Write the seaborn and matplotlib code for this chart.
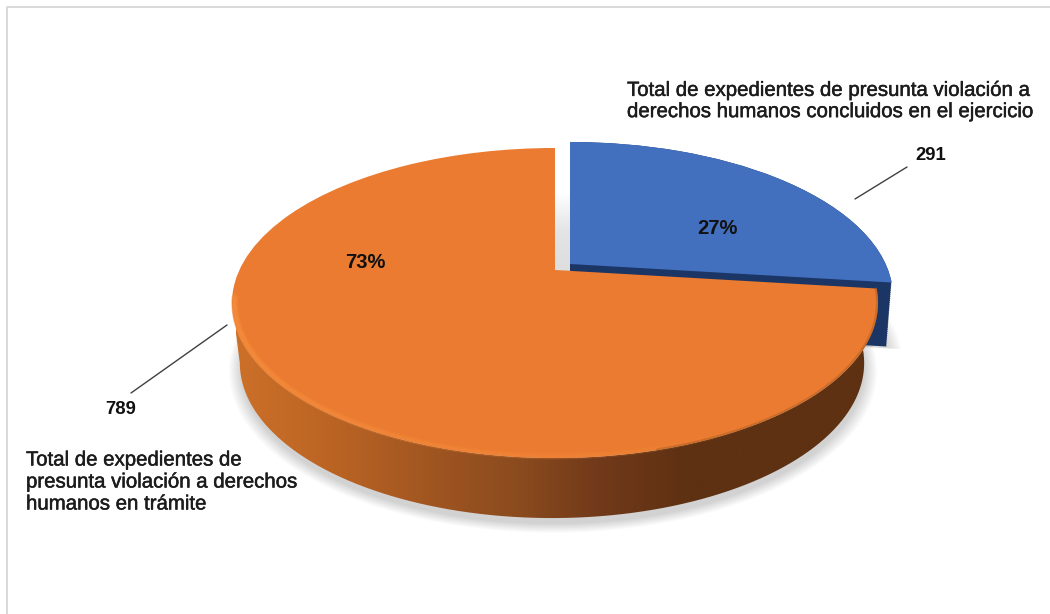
import numpy as np
import matplotlib
matplotlib.use("Agg")
import matplotlib.pyplot as plt
import matplotlib.transforms as mtransforms
import matplotlib.patheffects as pe
from matplotlib.colors import LinearSegmentedColormap
from matplotlib.collections import LineCollection
from matplotlib.patches import Wedge, PathPatch
from matplotlib.path import Path
import seaborn as sns

categories = ["Total de expedientes de presunta violación a\nderechos humanos concluidos en el ejercicio",
              "Total de expedientes de\npresunta violación a derechos\nhumanos en trámite"]
counts = [291, 789]
slice_colors = ["#4270BF", "#EA7B30"]
wall_colors = ["#CC7029", "#BA6424", "#9A5220", "#8C4C1E", "#70391A", "#5E3112", "#5E3112"]

sns.set_theme(style="white")
plt.rcParams["font.family"] = ["Liberation Sans", "DejaVu Sans"]


class Perspective(mtransforms.Transform):
    input_dims = 2
    output_dims = 2

    def __init__(self, cx, cy, bx=315.6, ay=148.0, k=0.213):
        super().__init__()
        self.cx, self.cy, self.bx, self.ay, self.k = cx, cy, bx, ay, k

    def transform_non_affine(self, values):
        values = np.asarray(values, dtype=float)
        w = 1 + self.k * values[:, 1]
        return np.column_stack([self.cx + self.bx * values[:, 0] / w,
                                self.cy - self.ay * values[:, 1] / w])


fig = plt.figure(figsize=(10.5, 6.14), dpi=100, facecolor="white")
ax = fig.add_axes([0, 0, 1, 1])

palette = sns.color_palette(slice_colors)
wedges, _ = ax.pie(counts, colors=palette, startangle=90, counterclock=False, radius=1,
                   center=(0, 0), frame=False, wedgeprops={"linewidth": 0})
ax.set_aspect("auto")

top_orange = Perspective(555, 270)
bot_orange = Perspective(552, 330, bx=305)
top_blue = Perspective(570, 264)
blue, orange = wedges
blue.set_transform(top_blue + ax.transData)
orange.set_transform(top_orange + ax.transData)
blue.set_zorder(6)
orange.set_zorder(8)


def ring(tr, a, b, r=1.0, n=200):
    t = np.radians(np.linspace(a, b, n))
    return tr.transform_non_affine(np.column_stack([r * np.cos(t), r * np.sin(t)]))


# Soft shadow under the disc
for i in range(9):
    r = 1.0 + i * 0.0045
    ax.add_patch(Wedge((0, 0), r, 0, 360, fc="black", ec="none", alpha=0.02, zorder=1,
                       transform=Perspective(553, 336, bx=305) + ax.transData))
    ax.add_patch(Wedge((0, 0), r, blue.theta1, blue.theta2, fc="black", ec="none", alpha=0.014,
                       zorder=1, transform=Perspective(572, 330, bx=312) + ax.transData))

# Gap shadow between the two slices
gap = np.linspace(0, 1, 64)[:, None]
ax.imshow(gap, extent=(555, 571, 270, 192), aspect="auto", zorder=2,
          cmap=LinearSegmentedColormap.from_list("gap", ["#FFFFFF", "#E4E4E4", "#DEDEDE"]))

# Blue side wall
for s in np.linspace(0, 1, 32):
    ax.add_patch(Wedge((0, 0), 1, blue.theta1, blue.theta2, fc="#1B3564", ec="none", zorder=5,
                       transform=Perspective(570, 264 + 64 * s, bx=315.6 - 5 * s) + ax.transData))

# Orange side wall with a left-to-right gradient
start, stop = 192.3, 360 + blue.theta1 if blue.theta1 < 0 else blue.theta1
upper = ring(top_orange, start, stop)
lower = ring(bot_orange, stop, start)
outline = np.vstack([upper, lower, upper[:1]])
clip = PathPatch(Path(outline), transform=ax.transData, fc="none", ec="none")
ax.add_patch(clip)
wall_cmap = LinearSegmentedColormap.from_list(
    "wall", list(zip([0, 0.15, 0.34, 0.43, 0.57, 0.70, 1.0], wall_colors)))
img = ax.imshow(np.linspace(0, 1, 512)[None, :], extent=(236, 880, 530, 250), aspect="auto",
                cmap=wall_cmap, vmin=0, vmax=1, zorder=7)
img.set_clip_path(clip)

# Rim highlight on the lit side, soft dark rim on the far side
t = np.linspace(190, 300, 160)
pts = ring(top_orange, 190, 300, r=0.992, n=160)
segs = np.stack([pts[:-1], pts[1:]], axis=1)
fade = np.clip(1 - (t[:-1] - 190) / 110, 0.0, 1) ** 0.6
for lw, alpha in ((5.0, 0.22), (2.6, 0.40)):
    rgba = np.tile(matplotlib.colors.to_rgba("#F78C3C"), (len(segs), 1))
    rgba[:, 3] = alpha * fade
    ax.add_collection(LineCollection(segs, colors=rgba, linewidths=lw, zorder=9, capstyle="round"))
pts = ring(top_orange, 285, stop, r=0.997, n=120)
ax.plot(pts[:, 0], pts[:, 1], color="#A85A20", lw=1.6, alpha=0.45, zorder=9)

# Chart frame
ax.plot([6.5, 6.5, 1050], [614, 7, 7], color="#D9D9D9", lw=1.4, zorder=0)

# Leader lines
ax.plot([855, 907], [199, 167], color="#404040", lw=1.0, zorder=10)
ax.plot([227, 131], [325, 393], color="#404040", lw=1.0, zorder=10)

ink = "#1C1C1C"
halo = [pe.withStroke(linewidth=0.35, foreground=ink)]
total = sum(counts)
ax.text(717, 229, f"{counts[0] / total:.0%}", ha="center", va="center", fontsize=14.5, color="#111111",
        fontweight="bold", zorder=11)
ax.text(365, 263, f"{counts[1] / total:.0%}", ha="center", va="center", fontsize=14.5, color="#111111",
        fontweight="bold", zorder=11)
ax.text(931, 155, str(counts[0]), ha="center", va="center", fontsize=13.3, color="#111111",
        fontweight="bold", zorder=11)
ax.text(121, 409, str(counts[1]), ha="center", va="center", fontsize=13.3, color="#111111",
        fontweight="bold", zorder=11)
ax.text(627, 101, categories[0], ha="left", va="center", fontsize=14.7, color=ink,
        linespacing=1.15, zorder=11, path_effects=halo)
ax.text(26, 482, categories[1], ha="left", va="center", fontsize=14.7, color=ink,
        linespacing=1.2, zorder=11, path_effects=halo)

ax.set_xlim(0, 1050)
ax.set_ylim(614, 0)
ax.axis("off")
fig.savefig("out.png", dpi=100, facecolor="white")
